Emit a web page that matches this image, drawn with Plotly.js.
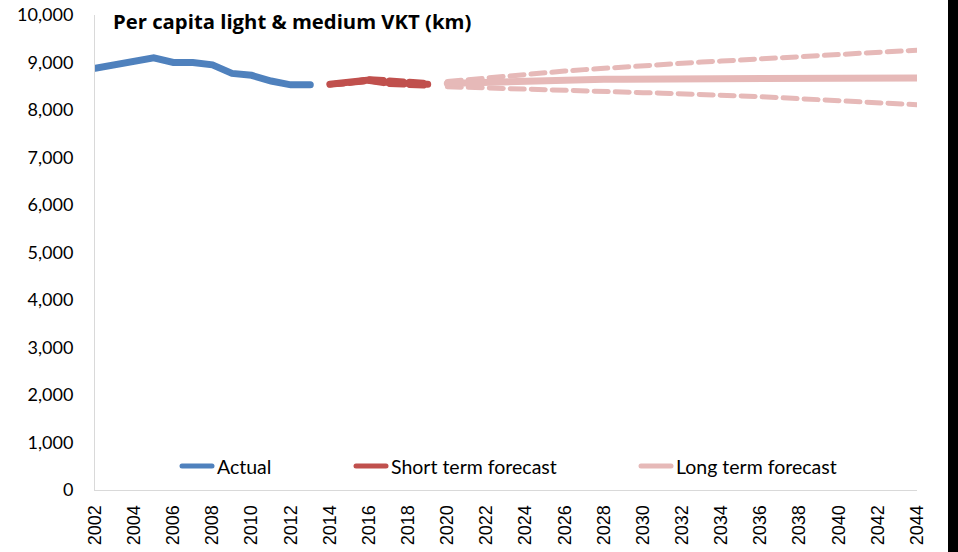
<!DOCTYPE html>
<html>
<head>
<meta charset="utf-8">
<script src="https://cdn.plot.ly/plotly-3.0.1.min.js"></script>
<style>
html,body{margin:0;padding:0;background:#fff;}
#chart{width:958px;height:552px;}
.scatterlayer path.js-line{stroke-linecap:round;}
.legendlines path{stroke-linecap:round;stroke-width:5px !important;}
</style>
</head>
<body>
<div id="chart"></div>
<script>
// ---- data ----
const actualYears = [2002,2003,2004,2005,2006,2007,2008,2009,2010,2011,2012,2013];
const actualVals  = [8880,8950,9050,9100,9000,9000,8950,8770,8730,8610,8530,8530];

const shortYears = [2014,2015,2016,2017,2018,2019];
const shortVals  = [8540,8570,8630,8580,8555,8540];
const shortUpper = [8540,8575,8650,8610,8595,8570];
const shortLower = [8540,8565,8610,8550,8520,8510];

const longYears = [2020,2021,2022,2023,2024,2025,2026,2027,2028,2029,2030,2031,2032,2033,2034,2035,2036,2037,2038,2039,2040,2041,2042,2043,2044];
const longVals  = [8560,8575,8590,8600,8610,8620,8630,8638,8645,8650,8652,8654,8655,8655,8655,8656,8658,8660,8662,8664,8666,8668,8670,8672,8675];
const longUpper = [8600,8640,8680,8715,8750,8785,8820,8850,8880,8910,8935,8960,8985,9010,9030,9055,9075,9100,9120,9145,9165,9190,9210,9235,9260];
const longLower = [8490,8475,8460,8450,8435,8420,8405,8395,8385,8375,8365,8355,8345,8330,8315,8295,8280,8260,8240,8220,8200,8180,8160,8135,8110];

const seriesNames = ["Actual","Short term forecast","Long term forecast"];
const colBlue = "#4F81BD", colRed = "#C0504D", colPink = "#E6B9B8";

const traces = [
  {x: actualYears, y: actualVals, name: seriesNames[0], mode: "lines", legend: "legend",
   line: {color: colBlue, width: 7}},
  {x: shortYears, y: shortUpper, mode: "lines", showlegend: false, hoverinfo: "skip",
   line: {color: colRed, width: 6, dash: "14px,6px"}},
  {x: shortYears, y: shortLower, mode: "lines", showlegend: false, hoverinfo: "skip",
   line: {color: colRed, width: 6, dash: "14px,6px"}},
  {x: shortYears, y: shortVals, name: seriesNames[1], mode: "lines", legend: "legend2",
   line: {color: colRed, width: 7}},
  {x: longYears, y: longUpper, mode: "lines", showlegend: false, hoverinfo: "skip",
   line: {color: colPink, width: 5, dash: "14px,7px"}},
  {x: longYears, y: longLower, mode: "lines", showlegend: false, hoverinfo: "skip",
   line: {color: colPink, width: 5, dash: "14px,7px"}},
  {x: longYears, y: longVals, name: seriesNames[2], mode: "lines", legend: "legend3",
   line: {color: colPink, width: 7}}
];

const legendFont = {family: "Lato, 'Open Sans', sans-serif", size: 19.5, color: "#000"};
function leg(xpx){
  return {orientation: "h", x: (xpx - 95) / 822, xanchor: "left", y: 0.05, yanchor: "middle",
          bgcolor: "rgba(0,0,0,0)", borderwidth: 0, font: legendFont, itemwidth: 30,
          tracegroupgap: 0};
}

const layout = {
  width: 958, height: 552,
  margin: {l: 95, r: 41, t: 15, b: 62, pad: 0},
  paper_bgcolor: "#fff", plot_bgcolor: "#fff",
  title: {text: "<b>Per capita light &amp; medium VKT (km)</b>",
          font: {family: "'Open Sans', Lato, sans-serif", size: 20.3, color: "#000"},
          x: 113/958, xanchor: "left", xref: "container",
          y: 1 - 22/552, yanchor: "middle", yref: "container"},
  xaxis: {range: [2002, 2044], tickmode: "linear", tick0: 2002, dtick: 2, tickangle: -90,
          showgrid: false, zeroline: false, showline: true, linecolor: "#D9D9D9", linewidth: 1,
          ticks: "", ticklabelstandoff: 7,
          tickfont: {family: "'Liberation Sans', Arial, sans-serif", size: 18, color: "#000"}},
  yaxis: {range: [0, 10000], tickmode: "linear", tick0: 0, dtick: 1000, tickformat: ",d",
          showgrid: false, zeroline: false, showline: true, linecolor: "#D9D9D9", linewidth: 1,
          ticks: "", ticklabelstandoff: 17,
          tickfont: {family: "Lato, 'Open Sans', sans-serif", size: 18, color: "#000"}},
  showlegend: true,
  legend: leg(177),
  legend2: leg(351),
  legend3: leg(636),
  shapes: [
    {type: "rect", xref: "paper", yref: "paper",
     x0: (948 - 95) / 822, x1: (960 - 95) / 822, y0: -70 / 475, y1: 1 + 20 / 475,
     fillcolor: "#000", line: {width: 0}, layer: "above"}
  ]
};

Plotly.newPlot("chart", traces, layout, {displayModeBar: false, staticPlot: true});
</script>
</body>
</html>
